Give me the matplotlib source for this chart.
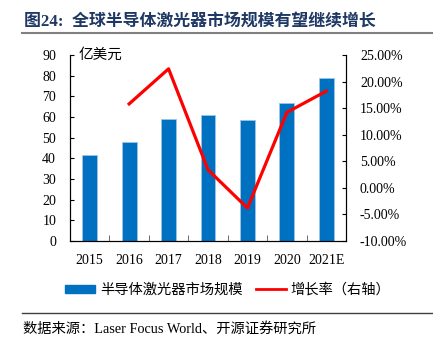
import matplotlib
matplotlib.use("Agg")
import matplotlib.pyplot as plt
from matplotlib.ticker import FuncFormatter, MultipleLocator, FixedLocator
from matplotlib.lines import Line2D

years = ["2015", "2016", "2017", "2018", "2019", "2020", "2021E"]
market = [41.4, 48.1, 58.9, 61.0, 58.6, 67.0, 79.1]
growth_years = ["2016", "2017", "2018", "2019", "2020", "2021E"]
growth = [15.8, 22.4, 3.4, -3.8, 14.2, 18.2]

title = "图24:  全球半导体激光器市场规模有望继续增长"
source = "数据来源：Laser Focus World、开源证券研究所"
unit = "亿美元"
bar_label = "半导体激光器市场规模"
line_label = "增长率（右轴）"

FAM = ["Liberation Serif", "Noto Sans CJK SC"]
plt.rcParams["font.family"] = FAM

W, H = 433, 343
fig = plt.figure(figsize=(W / 100, H / 100), dpi=100)
ax = fig.add_axes([70 / W, 102 / H, 276 / W, 186 / H])
ax2 = ax.twinx()

x = list(range(len(years)))
ax.bar(x, market, width=0.38, color="#0070C0", edgecolor="#9DC3E6", linewidth=0.6, zorder=2)
gx = [years.index(y) for y in growth_years]
ax2.plot(gx, growth, color="#FF0000", linewidth=2.3, zorder=3)

ax.set_xlim(-0.5, len(years) - 0.5)
ax.set_ylim(0, 90)
ax.yaxis.set_major_locator(MultipleLocator(10))
ax2.set_ylim(-10, 25)
ax2.yaxis.set_major_locator(MultipleLocator(5))
ax2.yaxis.set_major_formatter(FuncFormatter(lambda v, p: f"{v:.2f}%"))

ax.set_xticks(x)
ax.set_xticklabels(years)
ax.xaxis.set_minor_locator(FixedLocator([i + 0.5 for i in range(len(years) - 1)]))
ax.tick_params(axis="x", which="major", length=0, pad=9, labelsize=10)
ax.tick_params(axis="x", which="minor", direction="in", length=4, color="#555555")
ax.tick_params(axis="y", direction="in", length=3, pad=10, labelsize=10)
ax2.tick_params(axis="y", direction="in", length=3, pad=10, labelsize=10)

for a in (ax, ax2):
    a.spines["top"].set_visible(False)
    for s in ("left", "right", "bottom"):
        a.spines[s].set_color("black")
        a.spines[s].set_linewidth(0.8)

ax.text(0.03, 1.0, unit, transform=ax.transAxes, ha="left", va="center",
        fontsize=10.5, fontweight="medium", family=FAM)

# title
fig.text(24 / W, 1 - 22 / H, title, ha="left", va="center", fontsize=12.2,
         fontweight="bold", color="#1F3864", family=FAM)
fig.add_artist(Line2D([22 / W, 1.0], [1 - 33 / H, 1 - 33 / H], color="#808080", linewidth=1.5))

# legend
handles = [plt.Rectangle((0, 0), 1, 1, color="#0070C0"),
           Line2D([0], [0], color="#FF0000", linewidth=2.0)]
leg = fig.legend(handles, [bar_label, line_label], loc="center", ncol=2,
                 bbox_to_anchor=(228 / W, 1 - 290 / H), frameon=False,
                 fontsize=10.3, handlelength=2.1, handleheight=0.45,
                 columnspacing=0.9, handletextpad=0.35)

# footer
fig.add_artist(Line2D([22 / W, 1.0], [1 - 313 / H, 1 - 313 / H], color="#404040", linewidth=1.0))
fig.text(23 / W, 1 - 329 / H, source, ha="left", va="center", fontsize=10.3, family=FAM)

fig.savefig("out.png", dpi=100)
